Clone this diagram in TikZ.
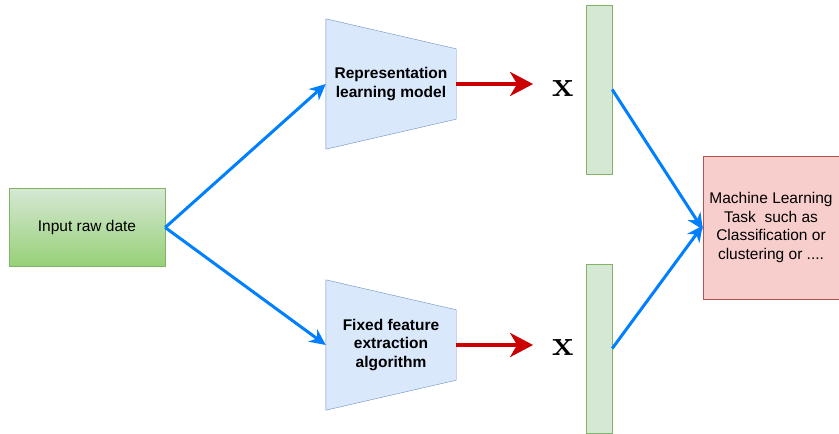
\documentclass[tikz,border=0pt]{standalone}
\usepackage{fontspec}
\setmainfont{Liberation Sans}
\newfontfamily\featfont{Latin Modern Roman}
\usepackage{tikz}
\usetikzlibrary{arrows.meta, positioning, backgrounds}

\definecolor{rawtop}{HTML}{D5E8D4}
\definecolor{rawbot}{HTML}{97D077}
\definecolor{greenline}{HTML}{82B366}
\definecolor{encfill}{HTML}{DAE8FC}
\definecolor{encline}{HTML}{6C8EBF}
\definecolor{taskfill}{HTML}{F8CECC}
\definecolor{taskline}{HTML}{B85450}
\definecolor{flowblue}{HTML}{007FFF}
\definecolor{flowred}{HTML}{CC0000}

\begin{document}
\begin{tikzpicture}[
    x=1pt, y=-1pt,
    % styles de boîtes
    raw/.style     = {rectangle, draw=greenline, top color=rawtop, bottom color=rawbot,
                      minimum width=156pt, minimum height=78pt, align=center,
                      font=\fontsize{15.5}{18.5}\selectfont},
    enc/.style     = {rectangle, minimum width=130pt, minimum height=130pt, align=center,
                      font=\fontsize{15.5}{18.5}\selectfont\bfseries},
    encborder/.style = {draw=encline, fill=encfill},
    vec/.style     = {rectangle, draw=greenline, fill=rawtop,
                      minimum width=26pt, minimum height=169pt},
    feat/.style    = {inner sep=0pt, font=\featfont\bfseries\fontsize{36}{36}\selectfont},
    task/.style    = {rectangle, draw=taskline, fill=taskfill,
                      minimum width=136pt, minimum height=143pt, align=center,
                      font=\fontsize{15.5}{18.5}\selectfont},
    arrowb/.style  = {-{Stealth[length=16pt, width=15pt, inset=5pt]}, line width=3pt, flowblue},
    arrowr/.style  = {-{Stealth[length=23pt, width=24pt, inset=7pt]}, line width=4pt, flowred},
]
\useasboundingbox (0,0) rectangle (839,434);

% ── Entrée ───────────────────────────────────────────────────────────────────
\node[raw] (input) at (87,227.5) {Input raw date};

% ── Deux branches ────────────────────────────────────────────────────────────
\node[enc] (rep) at (391,84)  {Representation\\learning model};
\node[enc] (fix) at (391,345) {Fixed feature\\extraction\\algorithm};

\begin{scope}[on background layer]
\draw[encborder] (rep.north west) -- ([yshift=-30pt]rep.north east)
    -- ([yshift=30pt]rep.south east) -- (rep.south west) -- cycle;
\draw[encborder] (fix.north west) -- ([yshift=-30pt]fix.north east)
    -- ([yshift=30pt]fix.south east) -- (fix.south west) -- cycle;
\end{scope}

% ── Vecteurs de caractéristiques ─────────────────────────────────────────────
\node[feat] (xtop) at (563,88.5) {x};
\node[feat] (xbot) at (563,348)  {x};

\node[vec] (vtop) at (599,89.5)  {};
\node[vec] (vbot) at (599,348.5) {};

% ── Tâche ────────────────────────────────────────────────────────────────────
\node[task] (ml) at (771,227.5)
    {Machine Learning\\Task~ such as\\Classification or\\clustering or ....};

% ── Flèches ──────────────────────────────────────────────────────────────────
\draw[arrowb] (input.east) -- (rep.west);
\draw[arrowb] (input.east) -- (fix.west);

\draw[arrowr, shorten >=19pt] (rep.east) -- (rep.east -| xtop.west);
\draw[arrowr, shorten >=19pt] (fix.east) -- (fix.east -| xbot.west);

\draw[arrowb] (vtop.east) -- ([yshift=-2pt]ml.west);
\draw[arrowb] (vbot.east) -- ([yshift=2pt]ml.west);

\end{tikzpicture}
\end{document}
